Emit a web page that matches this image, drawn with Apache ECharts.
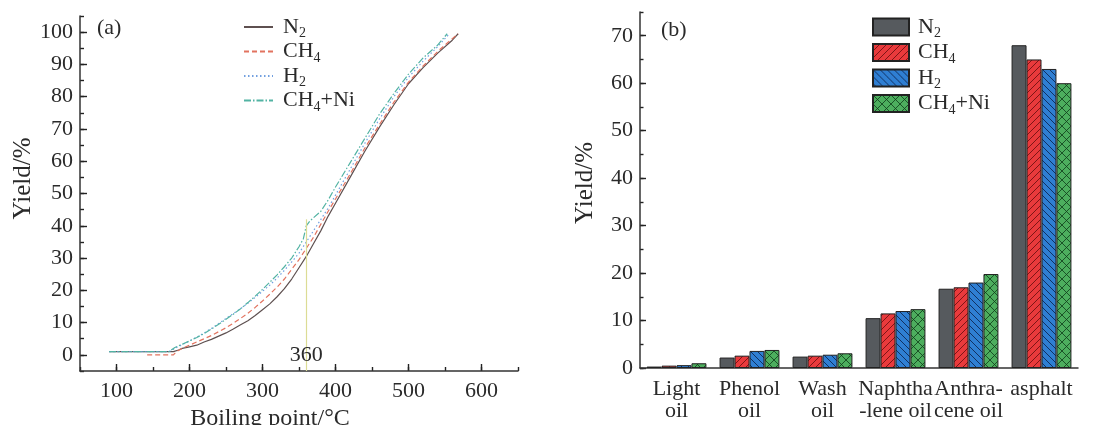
<!DOCTYPE html>
<html>
<head>
<meta charset="utf-8">
<script src="https://cdn.jsdelivr.net/npm/echarts@6/dist/echarts.min.js"></script>
<style>html,body{margin:0;padding:0;background:#fff;}#c{width:1111px;height:425px;}</style>
</head>
<body>
<div id="c"></div>
<script>
// ---------- DATA ----------
const seriesNames = ['N2', 'CH4', 'H2', 'CH4+Ni'];

// (a) distillation curves: [boiling point °C, yield %]
const curveN2 = [[90,1],[178,1],[185,1.5],[190,2],[200,2.5],[210,3],[220,4],[230,4.8],[240,5.8],[250,6.8],[260,8],[270,9.3],[280,10.6],[290,12.2],[300,14],[310,15.8],[320,18],[330,20.5],[340,23.5],[350,27],[360,30.5],[370,34.5],[380,38.5],[390,43],[400,47],[420,55],[440,63],[460,70.5],[480,77.5],[500,84],[520,89],[540,93.5],[560,97.5],[568,99.5]];
const curveCH4 = [[142,0],[178,0],[182,1],[190,2],[200,3],[210,4],[220,5],[230,6],[240,7.2],[250,8.4],[260,9.8],[270,11.3],[280,12.9],[290,14.7],[300,16.7],[310,18.8],[320,21],[330,23.5],[340,26.5],[350,29.5],[360,33],[370,36.5],[380,40.5],[390,44.5],[400,48.3],[420,56],[440,64],[460,71.3],[480,78.3],[500,84.5],[520,89.5],[540,94],[560,98],[568,99.5]];
const curveH2 = [[90,1],[172,1],[180,2],[190,3.2],[200,4.3],[210,5.5],[220,6.8],[230,8.2],[240,9.7],[250,11.3],[260,12.8],[270,14.3],[280,16],[290,17.8],[300,19.7],[310,21.6],[320,23.8],[330,26.2],[340,28.8],[350,31.5],[360,35],[370,38.5],[380,42],[390,45.5],[400,49.5],[420,57.5],[440,65.5],[460,73],[480,80],[500,86],[520,91],[540,95.5],[556,99.5]];
const curveNi = [[90,1],[172,1],[180,2.3],[190,3.3],[200,4.3],[210,5.4],[220,6.6],[230,8],[240,9.5],[250,11],[260,12.6],[270,14.3],[280,16.2],[290,18.2],[300,20.3],[310,22.5],[320,24.8],[330,27.3],[340,30],[350,33.5],[356,36],[360,40],[365,41.5],[370,42.5],[380,44.5],[390,48],[400,52],[420,59.5],[440,67],[460,74.5],[480,81],[500,87],[520,92],[540,96],[553,99.5]];
const marker360 = { x: 360, top: 42, labelY: 0 };

const xTicksA = [100, 200, 300, 400, 500, 600];
const yTicksA = [0, 10, 20, 30, 40, 50, 60, 70, 80, 90, 100];

// (b) fraction yields
const categories = ['Light\noil', 'Phenol\noil', 'Wash\noil', 'Naphtha\n-lene oil', 'Anthra-\ncene oil', 'asphalt'];
const barN2  = [0.3, 2.2, 2.4, 10.5, 16.7, 68.0];
const barCH4 = [0.5, 2.6, 2.6, 11.5, 17.0, 65.0];
const barH2  = [0.6, 3.6, 2.8, 12.0, 18.0, 63.0];
const barNi  = [1.0, 3.8, 3.1, 12.4, 19.8, 60.0];
const yTicksB = [0, 10, 20, 30, 40, 50, 60, 70];

// ---------- LAYOUT ----------
const A = { left: 80, top: 16, width: 438, height: 355, xMin: 50, xMax: 650, yMin: -5, yMax: 105 };
const B = { left: 640, top: 12, width: 438, height: 356, yMin: 0, yMax: 75 };
const TICK_MAJOR = 7, TICK_MINOR = 4;

function spanX(P, lo, hi) {
  return { left: P.left + (lo - P.xMin) / (P.xMax - P.xMin) * P.width, width: (hi - lo) / (P.xMax - P.xMin) * P.width };
}
function spanY(P, lo, hi) {
  return { top: P.top + (P.yMax - hi) / (P.yMax - P.yMin) * P.height, height: (hi - lo) / (P.yMax - P.yMin) * P.height };
}

// thin strips along the axes whose split lines act as inward tick marks
const tickStrips = [
  Object.assign({ dim: 'x', min: 100, max: 600, interval: 100, top: A.top + A.height - TICK_MAJOR, height: TICK_MAJOR }, spanX(A, 100, 600)),
  { dim: 'x', min: A.xMin, max: A.xMax, interval: 50, left: A.left, width: A.width, top: A.top + A.height - TICK_MINOR, height: TICK_MINOR },
  Object.assign({ dim: 'y', min: 0, max: 100, interval: 10, left: A.left, width: TICK_MAJOR }, spanY(A, 0, 100)),
  { dim: 'y', min: A.yMin, max: A.yMax, interval: 5, left: A.left, width: TICK_MINOR, top: A.top, height: A.height },
  Object.assign({ dim: 'y', min: 0, max: 70, interval: 10, left: B.left, width: TICK_MAJOR - 1 }, spanY(B, 0, 70)),
  { dim: 'y', min: B.yMin, max: B.yMax, interval: 5, left: B.left, width: TICK_MINOR - 0.5, top: B.top, height: B.height }
];

// ---------- STYLE HELPERS ----------
const FONT = 'Liberation Serif';
const TXT = '#2a2a2a';

function hatch(fill, dirs, size, lineColor, lw) {
  const c = document.createElement('canvas');
  c.width = c.height = size;
  const g = c.getContext('2d');
  g.fillStyle = fill; g.fillRect(0, 0, size, size);
  g.strokeStyle = lineColor; g.lineWidth = lw;
  dirs.forEach(d => {
    for (let k = -1; k <= 1; k++) {
      g.beginPath();
      if (d === '/') { g.moveTo(k * size, size); g.lineTo(k * size + size, 0); }
      else { g.moveTo(k * size, 0); g.lineTo(k * size + size, size); }
      g.stroke();
    }
  });
  return { image: c, repeat: 'repeat' };
}

function subFmt(name) {
  const n = name.slice(2);
  let out = '';
  for (const ch of n) {
    if (/[0-9]/.test(ch)) out += '{s|' + ch + '}';
    else out += '{m|' + ch + '}';
  }
  return out;
}
const richSub = {
  m: { fontSize: 22, fontFamily: FONT, color: TXT, lineHeight: 27 },
  s: { fontSize: 14, fontFamily: FONT, color: TXT, lineHeight: 27, verticalAlign: 'bottom' }
};

const lineColors = ['#5e5050', '#e2735f', '#72a0e0', '#52b3a3'];
const lineTypes = ['solid', [5, 3], [1.5, 2.5], [7, 2, 1.5, 2]];
const curves = [curveN2, curveCH4, curveH2, curveNi];

const barFills = [
  '#565a5e',
  hatch('#e93a3c', ['/'], 7, 'rgba(90,10,10,0.75)', 1),
  hatch('#2f7fd3', ['\\'], 7, 'rgba(10,30,70,0.8)', 1),
  hatch('#4dae5e', ['/', '\\'], 9, 'rgba(15,60,25,0.8)', 1)
];
const bars = [barN2, barCH4, barH2, barNi];

const axisLine = { show: true, onZero: false, lineStyle: { color: '#333', width: 1.5 } };
const labelStyle = { fontSize: 22, fontFamily: FONT, color: TXT };

const series = [];
curves.forEach((d, i) => {
  const s = {
    type: 'line', name: 'a:' + seriesNames[i], xAxisIndex: 0, yAxisIndex: 0,
    data: d, symbol: 'none', showSymbol: false,
    lineStyle: { color: lineColors[i], width: 1.2, type: lineTypes[i] },
    itemStyle: { color: lineColors[i] }
  };
  if (i === 3) {
    s.markLine = {
      silent: true, symbol: 'none', label: { show: false },
      lineStyle: { color: '#dcdc95', width: 1.2, type: 'solid' },
      data: [[{ coord: [marker360.x, A.yMin] }, { coord: [marker360.x, marker360.top] }]]
    };
    s.markPoint = {
      silent: true, symbol: 'circle', symbolSize: 0,
      label: { show: true, position: 'inside', formatter: String(marker360.x), fontSize: 22, fontFamily: FONT, color: TXT },
      data: [{ coord: [marker360.x, marker360.labelY] }]
    };
  }
  series.push(s);
});
bars.forEach((d, i) => {
  series.push({
    type: 'bar', name: 'b:' + seriesNames[i], xAxisIndex: 1, yAxisIndex: 1,
    data: d, barGap: '0%', barCategoryGap: '18%',
    itemStyle: { color: barFills[i], borderColor: '#222', borderWidth: 1 }
  });
});

const G = o => ({ left: o.left, top: o.top, width: o.width, height: o.height, outerBoundsMode: 'none', containLabel: false });
const hiddenAxis = gi => ({ type: 'value', gridIndex: gi, show: false, min: 0, max: 1 });
const tickAxis = (gi, t) => ({
  type: 'value', gridIndex: gi, min: t.min, max: t.max, interval: t.interval,
  axisLine: { show: false, onZero: false }, axisTick: { show: false }, axisLabel: { show: false },
  splitLine: { show: true, lineStyle: { color: '#222', width: 1.4, type: 'solid' } }
});

const grids = [G(A), G(B)];
const xAxes = [
  {
    type: 'value', gridIndex: 0, min: A.xMin, max: A.xMax, position: 'bottom',
    axisLine: axisLine, splitLine: { show: false }, axisTick: { show: false },
    axisLabel: Object.assign({ customValues: xTicksA, margin: 9 }, labelStyle),
    name: 'Boiling point/°C', nameLocation: 'middle', nameGap: 27,
    nameTextStyle: { fontSize: 24, fontFamily: FONT, color: TXT, padding: [0, 58, 0, 0] }
  },
  {
    type: 'category', gridIndex: 1, data: categories, position: 'bottom',
    axisLine: axisLine, axisTick: { show: false },
    axisLabel: Object.assign({ margin: 10, lineHeight: 22, interval: 0 }, labelStyle)
  }
];
const yAxes = [
  {
    type: 'value', gridIndex: 0, min: A.yMin, max: A.yMax, position: 'left',
    axisLine: axisLine, splitLine: { show: false }, axisTick: { show: false },
    axisLabel: Object.assign({ customValues: yTicksA, margin: 7 }, labelStyle),
    name: 'Yield/%', nameLocation: 'middle', nameGap: 42, nameRotate: 90,
    nameTextStyle: { fontSize: 25, fontFamily: FONT, color: TXT, padding: [0, 0, 0, 30] }
  },
  {
    type: 'value', gridIndex: 1, min: B.yMin, max: B.yMax, position: 'left',
    axisLine: axisLine, splitLine: { show: false }, axisTick: { show: false },
    axisLabel: Object.assign({ customValues: yTicksB, margin: 7 }, labelStyle),
    name: 'Yield/%', nameLocation: 'middle', nameGap: 42, nameRotate: 90,
    nameTextStyle: { fontSize: 25, fontFamily: FONT, color: TXT, padding: [0, 0, 0, 14] }
  }
];
tickStrips.forEach(t => {
  const gi = grids.length;
  grids.push(G(t));
  if (t.dim === 'x') { xAxes.push(tickAxis(gi, t)); yAxes.push(hiddenAxis(gi)); }
  else { yAxes.push(tickAxis(gi, t)); xAxes.push(hiddenAxis(gi)); }
});

const option = {
  animation: false,
  backgroundColor: '#fff',
  title: [
    { text: '(a)', left: 92, top: 12, textStyle: { fontSize: 22, fontWeight: 'normal', fontFamily: FONT, color: TXT } },
    { text: '(b)', left: 656, top: 14, textStyle: { fontSize: 22, fontWeight: 'normal', fontFamily: FONT, color: TXT } }
  ],
  legend: [
    {
      data: seriesNames.map(n => 'a:' + n), orient: 'vertical', left: 238, top: 11,
      itemWidth: 29, itemHeight: 14, itemGap: 0, formatter: subFmt,
      itemStyle: { opacity: 0 },
      textStyle: { rich: richSub, padding: [0, 0, 0, 5] }, selectedMode: false
    },
    {
      data: seriesNames.map(n => 'b:' + n), orient: 'vertical', left: 867, top: 11,
      icon: 'rect', itemWidth: 36, itemHeight: 17, itemGap: 1, formatter: subFmt,
      textStyle: { rich: richSub, padding: [0, 0, 0, 4] }, selectedMode: false
    }
  ],
  grid: grids,
  xAxis: xAxes,
  yAxis: yAxes,
  series: series
};

const chart = echarts.init(document.getElementById('c'), null, { renderer: 'canvas' });
chart.setOption(option);
</script>
</body>
</html>
